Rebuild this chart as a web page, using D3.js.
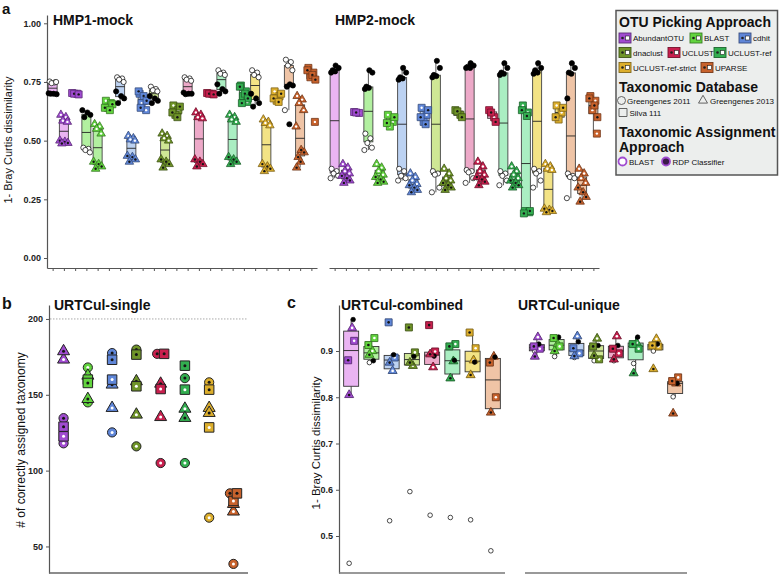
<!DOCTYPE html>
<html><head><meta charset="utf-8">
<script src="https://cdn.jsdelivr.net/npm/d3@7"></script>
<style>
body{margin:0;background:#fff}
text{font-family:"Liberation Sans",Arial,Helvetica,sans-serif}
</style></head>
<body><svg id="chart" width="779" height="577"></svg>
<script>
// ---------------- DATA ----------------
const methods = ["AbundantOTU","BLAST","cdhit","dnaclust","UCLUST","UCLUST-ref","UCLUST-ref-strict","UPARSE"];
const databases = ["Greengenes 2011","Greengenes 2013","Silva 111"];
const assignments = ["BLAST","RDP Classifier"];
const methodColors = ["#a04bd0","#62d43e","#5f86d8","#6f9428","#c8204e","#33ae50","#dcae2c","#c8622c"];
const boxColors = ["#eab4f2","#b2f0a0","#bcd2f2","#cfe795","#eda9c8","#aaeec2","#f3e385","#efc4a6"];
const facetsA = ["HMP1-mock","HMP2-mock"];
const facetsC = ["URTCul-combined","URTCul-unique"];
const ticksA = [0, 0.25, 0.5, 0.75, 1];
const ticksB = [50, 100, 150, 200];
const ticksC = [0.5, 0.6, 0.7, 0.8, 0.9];
const refLineB = 200;

// panel a: 24 groups per facet (method x database), values of 1- Bray Curtis
const hmp1Blast = [
 [0.752,0.748,0.745,0.75],[0.61,0.60,0.585,0.58],[0.703,0.70],
 [0.47,0.465,0.46,0.45],[0.57,0.56,0.55,0.53],[0.67,0.66,0.64],
 [0.77,0.765,0.76,0.75],[0.52,0.51,0.505,0.50],[0.70,0.68,0.66,0.63],
 [0.73,0.72,0.715,0.71],[0.53,0.52,0.51,0.50],[0.65,0.63,0.61],
 [0.77,0.765,0.76,0.755],[0.62,0.61,0.60,0.595],[0.703,0.70],
 [0.80,0.79,0.785,0.78],[0.61,0.60,0.59,0.58],[0.735,0.71,0.69,0.665],
 [0.80,0.79,0.78,0.77],[0.59,0.58,0.575,0.565],[0.71,0.69,0.67],
 [0.845,0.835,0.82,0.80,0.63],[0.69,0.675,0.66,0.63,0.56],[0.81,0.79,0.77,0.58]
];
const hmp1Rdp = [
 [0.702,0.70,0.698,0.70],[0.50,0.495,0.49,0.488],[0.70,0.697],
 [0.63,0.62,0.61,0.60],[0.41,0.40,0.39,0.38],[0.655,0.64,0.63],
 [0.71,0.69,0.68,0.66],[0.435,0.43,0.42,0.41],[0.71,0.69,0.67,0.64],
 [0.69,0.68,0.67,0.66],[0.42,0.41,0.40,0.385],[0.645,0.62,0.60],
 [0.705,0.70,0.70,0.698],[0.42,0.41,0.40,0.39],[0.70,0.697],
 [0.74,0.72,0.71,0.70],[0.43,0.42,0.41,0.40],[0.73,0.70,0.68,0.66],
 [0.70,0.68,0.66,0.645],[0.40,0.39,0.38,0.37],[0.70,0.68,0.665],
 [0.74,0.735,0.73,0.57],[0.46,0.45,0.43,0.41,0.385],[0.80,0.78,0.76]
];
const hmp2Blast = [
 [0.38,0.37,0.36,0.35,0.34],[0.40,0.385,0.37,0.36],[0.622,0.618],
 [0.53,0.51,0.49,0.47,0.46],[0.40,0.385,0.37,0.355],[0.61,0.58,0.56],
 [0.38,0.37,0.35,0.34,0.33],[0.36,0.345,0.33,0.315],[0.64,0.61,0.58],
 [0.37,0.36,0.355,0.30,0.28],[0.38,0.36,0.34,0.33],[0.63,0.61],
 [0.375,0.37,0.365,0.34,0.32],[0.41,0.39,0.37,0.355],[0.63,0.60],
 [0.37,0.36,0.35,0.33,0.31],[0.39,0.37,0.355,0.34],[0.65,0.62,0.20,0.195],
 [0.38,0.37,0.36,0.33,0.30],[0.40,0.39,0.38,0.375],[0.65,0.62,0.59],
 [0.36,0.35,0.345,0.34,0.255],[0.38,0.36,0.34,0.32],[0.69,0.67,0.63,0.53]
];
const hmp2Rdp = [
 [0.82,0.81,0.80,0.795,0.79],[0.35,0.34,0.33,0.32],[0.62],
 [0.80,0.79,0.73,0.725,0.72],[0.345,0.335,0.325,0.32],[0.60,0.575],
 [0.81,0.79,0.77,0.765,0.76],[0.31,0.30,0.29,0.28],[0.63,0.60,0.57],
 [0.84,0.81,0.78,0.775,0.77],[0.32,0.31,0.30,0.29],[0.625,0.60],
 [0.83,0.82,0.815,0.81,0.81],[0.345,0.335,0.325,0.31],[0.62,0.58],
 [0.83,0.81,0.79,0.785,0.78],[0.33,0.32,0.31,0.30],[0.63,0.605,0.20,0.19],
 [0.83,0.81,0.80,0.79,0.785],[0.21,0.205,0.20,0.195],[0.64,0.60],
 [0.83,0.81,0.79,0.785,0.68],[0.30,0.28,0.26,0.24],[0.68,0.65,0.60]
];

// panel b: # correctly assigned taxa, per method [GG2011, GG2013, Silva111]
const singleBlast = [[118,173.2,122.6],[168,162.6,160],[125.2,141.3,160],[116,136.9,155.6],
  [105,135.3,153.8],[105,140.8,153.4],[69,141.3,128.5],[38.5,73,80]];
const singleRdp = [[134.6,178.7,129],[145,147.2,157.8],[177.5,156.7,173.1],[179.8,158.9,176.5],
  [177,157.3,177],[161,134.7,169.2],[158.2,138,153.4],[85,78,85]];

// panel c: 1- Bray Curtis, per method [GG2011, GG2013, Silva111]
const combinedBlast = [[0.441,0.95,0.922],[0.875,0.90,0.928],[0.533,0.857,0.886],[0.596,0.868,0.897],
  [0.545,0.865,0.899],[0.54,0.878,0.915],[0.535,0.88,0.906],[0.468,0.888,0.80]];
const combinedRdp = [[0.968,0.805,0.88],[0.879,0.892,0.913],[0.892,0.875,0.962],[0.888,0.875,0.951],
  [0.889,0.893,0.956],[0.88,0.841,0.91],[0.876,0.848,0.94],[0.887,0.767,0.875]];
const uniqueBlast = [[0.899,0.93,0.905],[0.888,0.915,0.91],[0.886,0.932,0.895],[0.879,0.927,0.882],
  [0.879,0.932,0.895],[0.873,0.918,0.905],[0.90,0.926,0.91],[0.801,0.83,0.843]];
const uniqueRdp = [[0.915,0.888,0.91],[0.93,0.90,0.928],[0.92,0.889,0.906],[0.912,0.89,0.91],
  [0.912,0.882,0.905],[0.93,0.852,0.915],[0.915,0.861,0.912],[0.83,0.765,0.835]];

// ---------------- DRAWING ----------------
const svg = d3.select("#chart");
const symTypes = [d3.symbolCircle, d3.symbolTriangle, d3.symbolSquare];

function text(g, x, y, s, size, weight, opts={}) {
  const t = g.append("text").attr("x", x).attr("y", y).text(s)
    .attr("font-size", size).attr("font-weight", weight || "normal").attr("fill", opts.fill || "#111");
  if (opts.anchor) t.attr("text-anchor", opts.anchor);
  if (opts.rotate) t.attr("transform", `rotate(-90,${x},${y})`);
  return t;
}

function styleAxis(sel) {
  sel.select(".domain").attr("stroke", "#555").attr("stroke-width", 1.2);
  sel.selectAll(".tick line").attr("stroke", "#555");
  sel.selectAll(".tick text").attr("font-size", 9).attr("font-weight", "bold").attr("fill", "#222")
    .attr("font-family", '"Liberation Sans",Arial,sans-serif');
}

function drawBox(g, cx, w, vals, y, fill, stroke) {
  const s = vals.slice().sort(d3.ascending);
  const q1 = d3.quantileSorted(s, 0.25), med = d3.quantileSorted(s, 0.5), q3 = d3.quantileSorted(s, 0.75);
  const iqr = q3 - q1;
  const lo = d3.min(s.filter(v => v >= q1 - 1.5 * iqr));
  const hi = d3.max(s.filter(v => v <= q3 + 1.5 * iqr));
  g.append("line").attr("x1", cx).attr("x2", cx).attr("y1", y(lo)).attr("y2", y(q1)).attr("stroke", stroke).attr("stroke-width", 0.9);
  g.append("line").attr("x1", cx).attr("x2", cx).attr("y1", y(q3)).attr("y2", y(hi)).attr("stroke", stroke).attr("stroke-width", 0.9);
  g.append("rect").attr("x", cx - w / 2).attr("y", y(q3)).attr("width", w).attr("height", Math.max(0.5, y(q1) - y(q3)))
    .attr("fill", fill).attr("stroke", stroke).attr("stroke-width", 0.9);
  g.append("line").attr("x1", cx - w / 2).attr("x2", cx + w / 2).attr("y1", y(med)).attr("y2", y(med)).attr("stroke", "#222").attr("stroke-width", 0.9);
}

// sz: {c: plain circle r, cc: coloured circle r, t: triangle side, s: square side, d: dot r}
function drawPoint(g, x, y, db, asg, color, sz, plainCircles) {
  if (db === 0 && plainCircles) {
    g.append("circle").attr("cx", x).attr("cy", y).attr("r", sz.c)
      .attr("fill", asg === 0 ? "#fff" : "#000").attr("stroke", "#000").attr("stroke-width", 0.7);
    return;
  }
  const area = [Math.PI * sz.cc * sz.cc, sz.t * sz.t * Math.sqrt(3) / 4, sz.s * sz.s][db];
  g.append("path").attr("d", d3.symbol().type(symTypes[db]).size(area)())
    .attr("transform", `translate(${x},${y})`).attr("fill", color)
    .attr("stroke", sz.stroke || d3.color(color).darker(1.6)).attr("stroke-width", sz.sw);
  g.append("circle").attr("cx", x).attr("cy", y).attr("r", sz.d)
    .attr("fill", asg === 0 ? "#fff" : "#151515");
}

// ---------- panel a ----------
const gA = svg.append("g");
const yA = d3.scaleLinear().domain([-0.0426, 1.0354]).range([268, 15]);
const setsA = [[hmp1Blast, hmp1Rdp], [hmp2Blast, hmp2Rdp]];
const jitA = [-3, 2, -1, 3.5, -4, 1, 4, -2, 0.5, -3.5];
const cats = d3.range(24);
gA.append("g").attr("transform", "translate(47,0)")
  .call(d3.axisLeft(yA).tickValues(ticksA).tickFormat(d3.format(".2f")).tickSize(3).tickSizeOuter(0))
  .call(styleAxis);
facetsA.forEach((name, f) => {
  const x0 = [47, 329][f];
  const x = d3.scalePoint().domain(cats).range([x0, x0 + 270]).padding(0.5);
  gA.append("g").attr("transform", "translate(0,268)")
    .call(d3.axisBottom(x).tickSize(3).tickSizeOuter(0).tickFormat(""))
    .call(styleAxis);
  const [bl, rd] = setsA[f];
  cats.forEach(i => {
    const m = Math.floor(i / 3);
    drawBox(gA, x(i), 9, bl[i].concat(rd[i]), yA, boxColors[m], "#444");
  });
  cats.forEach(i => {
    const m = Math.floor(i / 3), db = i % 3;
    const pts = bl[i].map(v => [v, 0]).concat(rd[i].map(v => [v, 1]));
    pts.forEach((p, k) => {
      drawPoint(gA, x(i) + jitA[k % jitA.length], yA(p[0]), db, p[1], methodColors[m],
        {c: 2.6, cc: 3, t: 8.5, s: 7, d: 1.2, sw: 0.8}, true);
    });
  });
  text(gA, x0 + 6, 25, name, 14, "bold");
});
text(gA, 2, 14, "a", 15, "bold");
text(gA, 12, 140, "1- Bray Curtis dissimilarity", 11, "normal", {anchor: "middle", rotate: true});

// ---------- panel b ----------
const gB = svg.append("g");
const yB = d3.scaleLinear().domain([32.5, 209.2]).range([573, 305]);
const xB = d3.scalePoint().domain(methods).range([49, 248]).padding(0.6);
gB.append("line").attr("x1", 50).attr("x2", 248).attr("y1", yB(refLineB)).attr("y2", yB(refLineB))
  .attr("stroke", "#aaa").attr("stroke-width", 1).attr("stroke-dasharray", "1.5,1.5");
gB.append("g").attr("transform", "translate(49,0)")
  .call(d3.axisLeft(yB).tickValues(ticksB).tickSize(3).tickSizeOuter(0)).call(styleAxis);
gB.append("line").attr("x1", 49).attr("x2", 248).attr("y1", 573).attr("y2", 573).attr("stroke", "#666").attr("stroke-width", 1.4);
methods.forEach((m, mi) => {
  const pts = [];
  databases.forEach((d, di) => {
    pts.push({v: singleBlast[mi][di], db: di, a: 0});
    pts.push({v: singleRdp[mi][di], db: di, a: 1});
  });
  pts.forEach(p => {
    const near = pts.filter(q => Math.abs(q.v - p.v) < 1.5);
    p.dx = near.length > 1 ? (near.indexOf(p) - (near.length - 1) / 2) * 7 : 0;
  });
  pts.sort((a, b) => a.db === 0 ? -1 : 1);
  pts.forEach(p => drawPoint(gB, xB(m) + p.dx, yB(p.v), p.db, p.a, methodColors[mi],
    {c: 4.5, cc: 4.6, t: 12, s: 9.5, d: 1.5, sw: 1, stroke: "#222"}, false));
});
text(gB, 2, 309, "b", 16, "bold");
text(gB, 54, 310, "URTCul-single", 14, "bold");
text(gB, 25, 440, "# of correctly assigned taxonomy", 12, "normal", {anchor: "middle", rotate: true});

// ---------- panel c ----------
const gC = svg.append("g");
const yC = d3.scaleLinear().domain([0.42, 0.9995]).range([573, 305]);
gC.append("g").attr("transform", "translate(339,0)")
  .call(d3.axisLeft(yC).tickValues(ticksC).tickFormat(d3.format(".1f")).tickSize(3).tickSizeOuter(0)).call(styleAxis);
const setsC = [[combinedBlast, combinedRdp], [uniqueBlast, uniqueRdp]];
const jitC = [-2, 1, 3, 2, -2, -3];
facetsC.forEach((name, f) => {
  const [xa, xb] = [[339, 505], [525, 687]][f];
  const x = d3.scalePoint().domain(methods).range([xa, xb]).padding(0.6);
  gC.append("line").attr("x1", xa).attr("x2", xb).attr("y1", 573).attr("y2", 573).attr("stroke", "#777").attr("stroke-width", 1.6);
  const [bl, rd] = setsC[f];
  methods.forEach((m, mi) => {
    drawBox(gC, x(m), 15, bl[mi].concat(rd[mi]), yC, boxColors[mi], "#333");
  });
  methods.forEach((m, mi) => {
    const pts = [];
    databases.forEach((d, di) => { pts.push([bl[mi][di], di, 0]); });
    databases.forEach((d, di) => { pts.push([rd[mi][di], di, 1]); });
    pts.forEach((p, k) => drawPoint(gC, x(m) + jitC[k], yC(p[0]), p[1], p[2], methodColors[mi],
      {c: 2.3, cc: 3, t: 9, s: 7, d: 1.3, sw: 0.9}, true));
  });
  text(gC, [341, 518][f], 310, name, 14, "bold");
});
text(gC, 287, 308, "c", 16, "bold");
text(gC, 320, 443, "1- Bray Curtis dissimilarity", 11.5, "normal", {anchor: "middle", rotate: true});

// ---------- legend ----------
const gL = svg.append("g");
gL.append("rect").attr("x", 616).attr("y", 10.5).attr("width", 161.5).attr("height", 164.5)
  .attr("fill", "#eceeed").attr("stroke", "#555").attr("stroke-width", 1.5);
text(gL, 619, 27, "OTU Picking Approach", 14, "bold");
const legRows = [[0, 1, 2], [3, 4, 5], [6, 7]];
const legX = [[619, 690, 739], [619, 668, 714], [619, 701]];
const legY = [38, 52.5, 67.5];
legRows.forEach((row, r) => row.forEach((mi, c) => {
  const kx = legX[r][c], ky = legY[r];
  gL.append("rect").attr("x", kx).attr("y", ky - 5).attr("width", 12).attr("height", 10)
    .attr("fill", methodColors[mi]).attr("stroke", d3.color(methodColors[mi]).darker(1.5)).attr("stroke-width", 0.9);
  gL.append("rect").attr("x", kx + 6.5).attr("y", ky - 2).attr("width", 4).attr("height", 4)
    .attr("fill", "#fff").attr("stroke", "#222").attr("stroke-width", 0.6);
  gL.append("circle").attr("cx", kx + 3.5).attr("cy", ky).attr("r", 1.3).attr("fill", "#222");
  text(gL, kx + 14, ky + 3, methods[mi], 8, "normal");
}));
text(gL, 619, 91.5, "Taxonomic Database", 14, "bold");
const dbPos = [[621.5, 100.5], [703, 100.5], [623, 112.5]];
const dbText = [627, 710, 629.5];
databases.forEach((d, di) => {
  const area = [Math.PI * 16, 9 * 9 * Math.sqrt(3) / 4, 64][di];
  gL.append("path").attr("d", d3.symbol().type(symTypes[di]).size(area)())
    .attr("transform", `translate(${dbPos[di][0]},${dbPos[di][1]})`)
    .attr("fill", "none").attr("stroke", "#555").attr("stroke-width", 0.9);
  text(gL, dbText[di], dbPos[di][1] + 3, d, 8, "normal");
});
text(gL, 619, 137, "Taxonomic Assignment", 14, "bold");
text(gL, 619, 152, "Approach", 14, "bold");
const asPos = [622.5, 666];
const asText = [629, 672.5];
assignments.forEach((a, ai) => {
  gL.append("circle").attr("cx", asPos[ai]).attr("cy", 161.5).attr("r", 4)
    .attr("fill", ai === 0 ? "#fff" : "#3a1a48").attr("stroke", methodColors[0]).attr("stroke-width", 1.8);
  text(gL, asText[ai], 164.5, a, 8, "normal");
});
</script></body></html>
